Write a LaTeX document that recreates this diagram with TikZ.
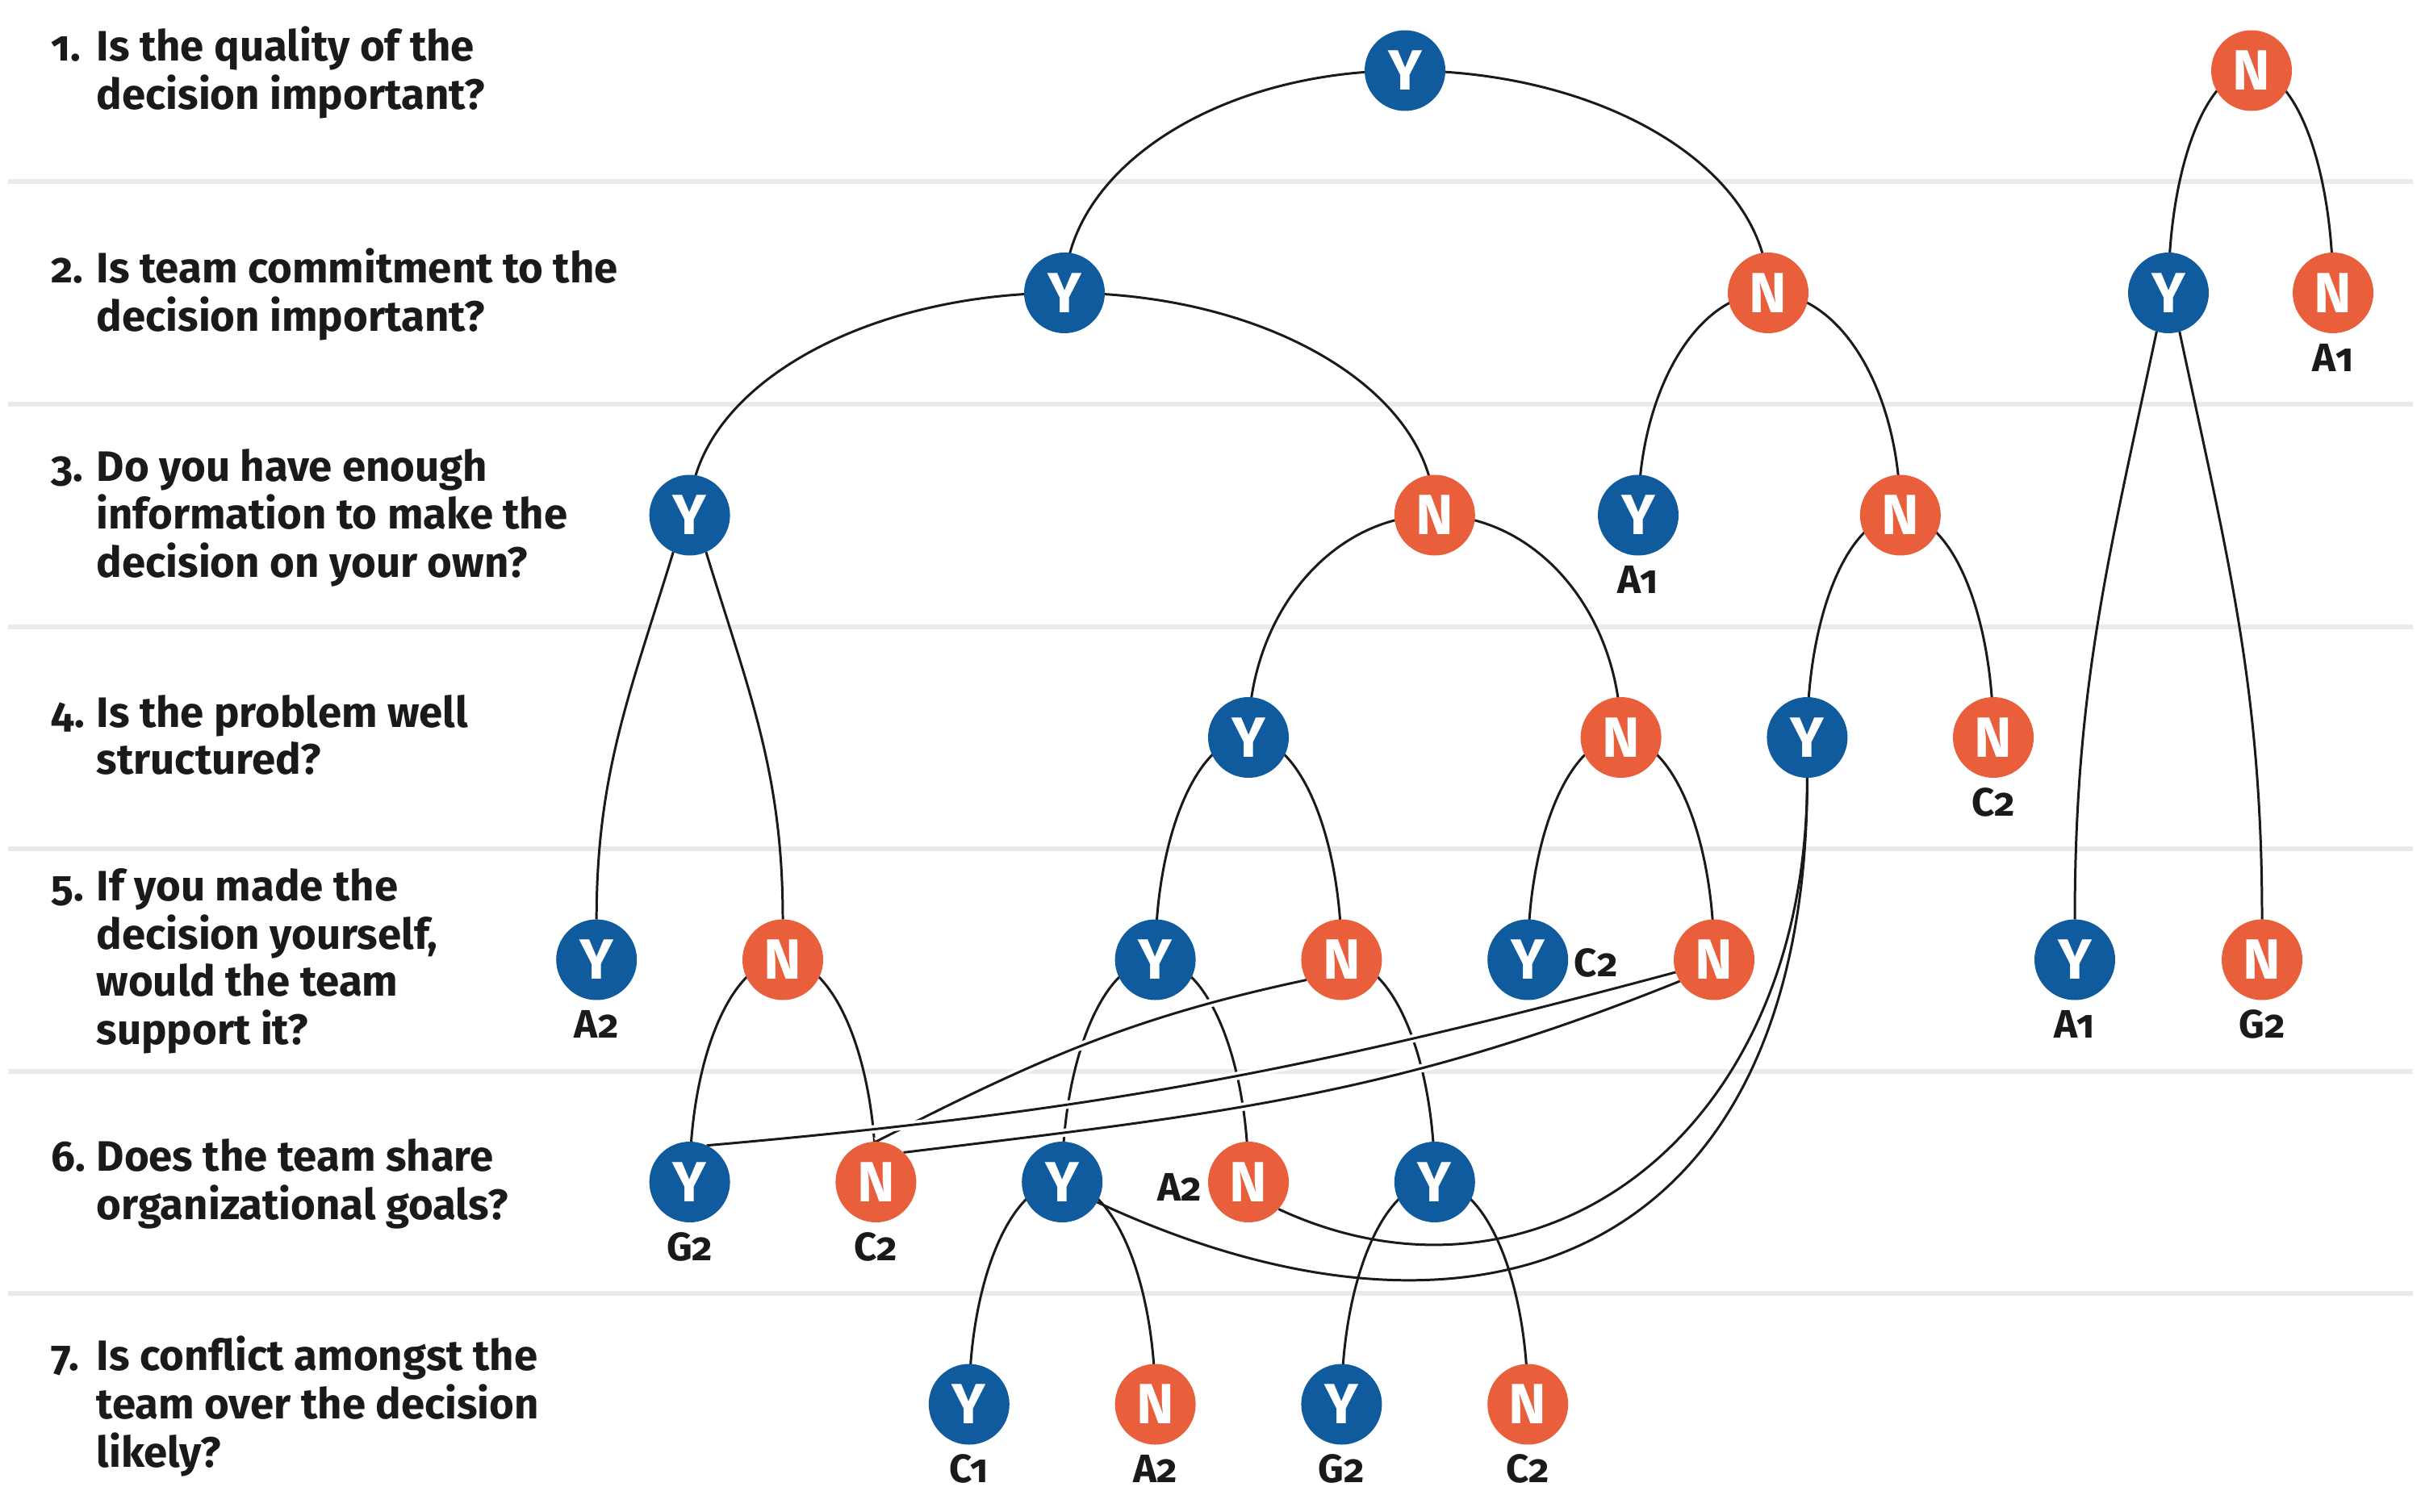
\documentclass[tikz,border=0pt]{standalone}
\usepackage{fontspec}
\setmainfont{Fira Sans}[Numbers=OldStyle]
\usetikzlibrary{calc}
\definecolor{yblue}{RGB}{16,91,158}
\definecolor{norange}{RGB}{233,94,59}
\definecolor{sepgray}{RGB}{234,234,234}
\definecolor{ink}{RGB}{26,26,26}
\pgfdeclarelayer{bg}
\pgfdeclarelayer{edges}
\pgfsetlayers{bg,edges,main}
\begin{document}
\begin{tikzpicture}[x=1cm,y=1cm,
  yn/.style={circle, minimum size=1cm, inner sep=0pt, outer sep=0pt, text=white, font=\fontsize{20}{24}\selectfont\bfseries},
  ynY/.style={yn, fill=yblue},
  ynN/.style={yn, fill=norange},
  lbl/.style={text=ink, font=\fontsize{14}{16}\selectfont\bfseries, inner sep=0pt},
  qtext/.style={text=ink, font=\fontsize{15}{16.3}\selectfont\bfseries, anchor=west, inner sep=0pt, align=left},
  edge/.style={draw=ink, line width=0.85pt},
  halo/.style={edge, preaction={draw=white, line width=2.9pt}},
  sepline/.style={draw=sepgray, line width=1.8pt},
  ellip/.style={to path={.. controls ($(\tikztostart)!0.5523!(\tikztostart -| \tikztotarget)$) and ($(\tikztotarget)!0.5523!(\tikztostart -| \tikztotarget)$) .. (\tikztotarget)}}
]
\useasboundingbox (0,0) rectangle (30,-18.74);
\begin{pgfonlayer}{bg}
\fill[white] (0,0) rectangle (30,-18.74);
\foreach \y in {-2.25,-5.01,-7.77,-10.52,-13.28,-16.03}
  \draw[sepline] (0.10,\y) -- (29.90,\y);
\end{pgfonlayer}

% questions
\node[qtext] (q1) at (0.63,-0.925) {\begin{tabular}{@{}p{0.56cm}@{}l@{}}1.&Is the quality of the\\&decision important?\end{tabular}};
\node[qtext] (q2) at (0.63,-3.68) {\begin{tabular}{@{}p{0.56cm}@{}l@{}}2.&Is team commitment to the\\&decision important?\end{tabular}};
\node[qtext] (q3) at (0.63,-6.445) {\begin{tabular}{@{}p{0.56cm}@{}l@{}}3.&Do you have enough\\&information to make the\\&decision on your own?\end{tabular}};
\node[qtext] (q4) at (0.63,-9.19) {\begin{tabular}{@{}p{0.56cm}@{}l@{}}4.&Is the problem well\\&structured?\end{tabular}};
\node[qtext] (q5) at (0.63,-11.94) {\begin{tabular}{@{}p{0.56cm}@{}l@{}}5.&If you made the\\&decision yourself,\\&would the team\\&support it?\end{tabular}};
\node[qtext] (q6) at (0.63,-14.70) {\begin{tabular}{@{}p{0.56cm}@{}l@{}}6.&Does the team share\\&organizational goals?\end{tabular}};
\node[qtext] (q7) at (0.63,-17.455) {\begin{tabular}{@{}p{0.56cm}@{}l@{}}7.&Is conflict amongst the\\&team over the decision\\&likely?\end{tabular}};

% decision nodes
\node[ynY] (a1) at (17.41,-0.875) {Y};
\node[ynN] (b1) at (27.90,-0.875) {N};
\node[ynY] (a2) at (13.19,-3.63) {Y};
\node[ynN] (b2) at (21.91,-3.63) {N};
\node[ynY] (c2) at (26.87,-3.63) {Y};
\node[ynN] (d2) at (28.91,-3.63) {N};
\node[ynY] (a3) at (8.546,-6.385) {Y};
\node[ynN] (b3) at (17.778,-6.385) {N};
\node[ynY] (c3) at (20.30,-6.385) {Y};
\node[ynN] (d3) at (23.548,-6.385) {N};
\node[ynY] (a4) at (15.47,-9.14) {Y};
\node[ynN] (b4) at (20.086,-9.14) {N};
\node[ynY] (c4) at (22.394,-9.14) {Y};
\node[ynN] (d4) at (24.70,-9.14) {N};
\node[ynY] (a5) at (7.392,-11.895) {Y};
\node[ynN] (b5) at (9.70,-11.895) {N};
\node[ynY] (c5) at (14.316,-11.895) {Y};
\node[ynN] (d5) at (16.624,-11.895) {N};
\node[ynY] (e5) at (18.932,-11.895) {Y};
\node[ynN] (f5) at (21.24,-11.895) {N};
\node[ynY] (g5) at (25.71,-11.895) {Y};
\node[ynN] (h5) at (28.03,-11.895) {N};
\node[ynY] (a6) at (8.546,-14.65) {Y};
\node[ynN] (b6) at (10.854,-14.65) {N};
\node[ynY] (c6) at (13.162,-14.65) {Y};
\node[ynN] (d6) at (15.47,-14.65) {N};
\node[ynY] (e6) at (17.778,-14.65) {Y};
\node[ynY] (a7) at (12.008,-17.405) {Y};
\node[ynN] (b7) at (14.316,-17.405) {N};
\node[ynY] (c7) at (16.624,-17.405) {Y};
\node[ynN] (d7) at (18.932,-17.405) {N};

% outcome labels
\node[lbl] (Ld2) at ($(d2)+(0,-0.80)$) {A1};
\node[lbl] (Lc3) at ($(c3)+(0,-0.80)$) {A1};
\node[lbl] (Ld4) at ($(d4)+(0,-0.80)$) {C2};
\node[lbl] (La5) at ($(a5)+(0,-0.80)$) {A2};
\node[lbl] (Lg5) at ($(g5)+(0,-0.80)$) {A1};
\node[lbl] (Lh5) at ($(h5)+(0,-0.80)$) {G2};
\node[lbl] (La6) at ($(a6)+(0,-0.80)$) {G2};
\node[lbl] (Lb6) at ($(b6)+(0,-0.80)$) {C2};
\node[lbl] (La7) at ($(a7)+(0,-0.80)$) {C1};
\node[lbl] (Lb7) at ($(b7)+(0,-0.80)$) {A2};
\node[lbl] (Lc7) at ($(c7)+(0,-0.80)$) {G2};
\node[lbl] (Ld7) at ($(d7)+(0,-0.80)$) {C2};
\node[lbl, anchor=west] (Le5) at ($(e5)+(0.57,-0.04)$) {C2};
\node[lbl, anchor=east] (Ld6) at ($(d6)+(-0.57,-0.06)$) {A2};

% connectors
\begin{pgfonlayer}{edges}
\foreach \p/\c in {a1/a2, a1/b2, b1/c2, b1/d2, a2/a3, a2/b3, b2/c3, b2/d3,
                   b3/a4, b3/b4, d3/c4, d3/d4, a4/c5, a4/d5, b4/e5, b4/f5,
                   b5/a6, b5/b6, c5/c6, c5/d6, d5/e6, c6/a7, c6/b7, e6/c7, e6/d7}
  \draw[edge] (\p.center) to[ellip] (\c.center);
\draw[edge] (a3.-114) to[out=-107,in=90] (a5.north);
\draw[edge] (a3.-66) to[out=-73,in=90] (b5.north);
\draw[edge] (c2.-107) to[out=-102,in=90] (g5.north);
\draw[edge] (c2.-74) to[out=-78,in=90] (h5.north);
\draw[edge] (c4.south) .. controls +(0,-4.5) and +(-25:3.5) .. (d6.-42);
\draw[edge] (c4.south) .. controls +(0,-6) and +(-25:5.2) .. (c6.-30);
\draw[halo] (d5.210) to[out=192,in=27] (b6.north);
\draw[halo] (f5.212) to[out=202,in=7] (b6.47);
\draw[halo] (f5.198) to[out=195,in=5] (a6.65);
\end{pgfonlayer}
\end{tikzpicture}
\end{document}
